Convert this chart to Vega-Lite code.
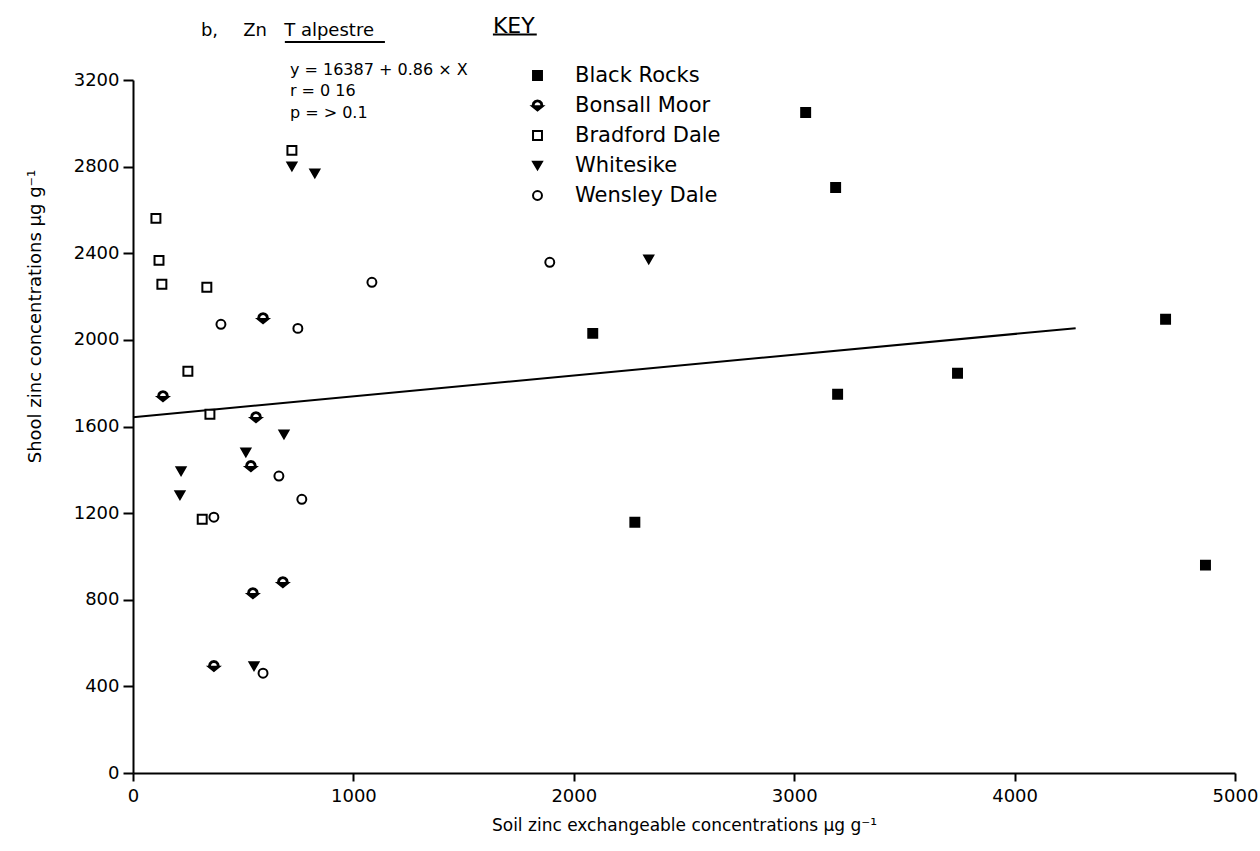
{
  "$schema": "https://vega.github.io/schema/vega-lite/v6.json",
  "width": 1102,
  "height": 693,
  "autosize": "none",
  "padding": {"left": 133, "top": 80, "right": 25, "bottom": 78},
  "background": "white",
  "config": {
    "view": {"stroke": null},
    "font": "DejaVu Sans",
    "axis": {
      "grid": false,
      "domainColor": "black",
      "domainWidth": 2,
      "tickColor": "black",
      "tickWidth": 2,
      "labelColor": "black",
      "titleColor": "black",
      "labelFont": "DejaVu Sans",
      "titleFont": "DejaVu Sans",
      "labelFontSize": 18,
      "titleFontSize": 17,
      "titleFontWeight": "normal"
    }
  },
  "datasets": {
    "points": [
      {"site": "Black Rocks", "soil": 3052, "shoot": 3050},
      {"site": "Black Rocks", "soil": 3188, "shoot": 2704},
      {"site": "Black Rocks", "soil": 2086, "shoot": 2030},
      {"site": "Black Rocks", "soil": 4685, "shoot": 2095},
      {"site": "Black Rocks", "soil": 3741, "shoot": 1846},
      {"site": "Black Rocks", "soil": 3197, "shoot": 1749},
      {"site": "Black Rocks", "soil": 2277, "shoot": 1158},
      {"site": "Black Rocks", "soil": 4866, "shoot": 960},
      {"site": "Bonsall Moor", "soil": 136, "shoot": 1740},
      {"site": "Bonsall Moor", "soil": 590, "shoot": 2100},
      {"site": "Bonsall Moor", "soil": 558, "shoot": 1643},
      {"site": "Bonsall Moor", "soil": 535, "shoot": 1417},
      {"site": "Bonsall Moor", "soil": 680, "shoot": 881},
      {"site": "Bonsall Moor", "soil": 544, "shoot": 830},
      {"site": "Bonsall Moor", "soil": 367, "shoot": 494},
      {"site": "Bradford Dale", "soil": 104, "shoot": 2561},
      {"site": "Bradford Dale", "soil": 118, "shoot": 2367},
      {"site": "Bradford Dale", "soil": 131, "shoot": 2257},
      {"site": "Bradford Dale", "soil": 335, "shoot": 2243},
      {"site": "Bradford Dale", "soil": 249, "shoot": 1855},
      {"site": "Bradford Dale", "soil": 349, "shoot": 1657},
      {"site": "Bradford Dale", "soil": 314, "shoot": 1172},
      {"site": "Bradford Dale", "soil": 721, "shoot": 2875},
      {"site": "Whitesike", "soil": 721, "shoot": 2801},
      {"site": "Whitesike", "soil": 825, "shoot": 2769},
      {"site": "Whitesike", "soil": 685, "shoot": 1564},
      {"site": "Whitesike", "soil": 512, "shoot": 1481},
      {"site": "Whitesike", "soil": 218, "shoot": 1394},
      {"site": "Whitesike", "soil": 213, "shoot": 1283},
      {"site": "Whitesike", "soil": 549, "shoot": 494},
      {"site": "Whitesike", "soil": 2340, "shoot": 2372},
      {"site": "Wensley Dale", "soil": 399, "shoot": 2072},
      {"site": "Wensley Dale", "soil": 748, "shoot": 2053},
      {"site": "Wensley Dale", "soil": 1084, "shoot": 2266},
      {"site": "Wensley Dale", "soil": 662, "shoot": 1371},
      {"site": "Wensley Dale", "soil": 766, "shoot": 1264},
      {"site": "Wensley Dale", "soil": 367, "shoot": 1181},
      {"site": "Wensley Dale", "soil": 590, "shoot": 461},
      {"site": "Wensley Dale", "soil": 1891, "shoot": 2358}
    ],
    "fit": [
      {"soil": 0, "shoot": 1643},
      {"soil": 4277, "shoot": 2054}
    ],
    "notes": [
      {"group": "title", "label": "b,", "soil": 308, "shoot": 3424},
      {"group": "title", "label": "Zn", "soil": 500, "shoot": 3424},
      {"group": "title", "label": "T alpestre", "soil": 686, "shoot": 3424},
      {"group": "key", "label": "KEY", "soil": 1633, "shoot": 3450},
      {"group": "eq", "label": "y =  16387 + 0.86 × X", "soil": 712, "shoot": 3244},
      {"group": "eq", "label": "r =  0 16", "soil": 712, "shoot": 3147},
      {"group": "eq", "label": "p =  > 0.1", "soil": 712, "shoot": 3046}
    ],
    "underlines": [
      {"soil": 689, "soil2": 1143, "shoot": 3375},
      {"soil": 1633, "soil2": 1832, "shoot": 3410}
    ]
  },
  "layer": [
    {
      "data": {"name": "fit"},
      "mark": {"type": "line", "color": "black", "strokeWidth": 2},
      "encoding": {
        "x": {
          "field": "soil", "type": "quantitative",
          "scale": {"domain": [0, 5000], "nice": false, "zero": false},
          "axis": {
            "title": "Soil zinc exchangeable concentrations µg g⁻¹",
            "values": [0, 1000, 2000, 3000, 4000, 5000],
            "format": "d",
            "tickSize": 8,
            "labelPadding": 6,
            "titlePadding": 12,
            "labelFlush": false
          }
        },
        "y": {
          "field": "shoot", "type": "quantitative",
          "scale": {"domain": [0, 3200], "nice": false, "zero": false},
          "axis": {
            "title": "Shool zinc concentrations µg g⁻¹",
            "values": [0, 400, 800, 1200, 1600, 2000, 2400, 2800, 3200],
            "format": "d",
            "tickSize": 10,
            "labelPadding": 4,
            "labelFlush": false,
            "titleFontSize": 18,
            "titleX": -98,
            "titleY": 236,
            "titleAlign": "center",
            "titleBaseline": "middle"
          }
        }
      }
    },
    {
      "data": {"name": "points"},
      "mark": {"type": "point", "filled": true, "opacity": 1, "size": 80, "strokeWidth": 2},
      "encoding": {
        "x": {"field": "soil", "type": "quantitative"},
        "y": {"field": "shoot", "type": "quantitative"},
        "shape": {
          "field": "site", "type": "nominal",
          "scale": {
            "domain": ["Black Rocks", "Bonsall Moor", "Bradford Dale", "Whitesike", "Wensley Dale"],
            "range": ["square", "M-1.8,-0.05L1.8,-0.05L0,1.4ZM-1.3,-0.05L-1.13,-0.7L-0.65,-1.18L0,-1.35L0.65,-1.18L1.13,-0.7L1.3,-0.05L0.65,-0.05L0.56,-0.38L0.32,-0.62L0,-0.7L-0.32,-0.62L-0.56,-0.38L-0.65,-0.05Z", "square", "triangle-down", "circle"]
          },
          "legend": {
            "title": null,
            "orient": "none",
            "legendX": 394,
            "legendY": -15,
            "labelFontSize": 21,
            "labelFont": "DejaVu Sans",
            "labelColor": "black",
            "labelOffset": 27,
            "rowPadding": 8,
            "padding": 0,
            "symbolSize": 80,
            "symbolStrokeWidth": 2
          }
        },
        "fill": {
          "field": "site", "type": "nominal",
          "scale": {
            "domain": ["Black Rocks", "Bonsall Moor", "Bradford Dale", "Whitesike", "Wensley Dale"],
            "range": ["black", "black", "white", "black", "white"]
          }
        },
        "stroke": {
          "field": "site", "type": "nominal",
          "scale": {
            "domain": ["Black Rocks", "Bonsall Moor", "Bradford Dale", "Whitesike", "Wensley Dale"],
            "range": ["black", "transparent", "black", "black", "black"]
          }
        }
      }
    },
    {
      "data": {"name": "notes"},
      "transform": [{"filter": "datum.group === 'title'"}],
      "mark": {"type": "text", "align": "left", "baseline": "middle", "fontSize": 18, "color": "black"},
      "encoding": {
        "x": {"field": "soil", "type": "quantitative"},
        "y": {"field": "shoot", "type": "quantitative"},
        "text": {"field": "label"}
      }
    },
    {
      "data": {"name": "notes"},
      "transform": [{"filter": "datum.group === 'key'"}],
      "mark": {"type": "text", "align": "left", "baseline": "middle", "fontSize": 22, "color": "black"},
      "encoding": {
        "x": {"field": "soil", "type": "quantitative"},
        "y": {"field": "shoot", "type": "quantitative"},
        "text": {"field": "label"}
      }
    },
    {
      "data": {"name": "notes"},
      "transform": [{"filter": "datum.group === 'eq'"}],
      "mark": {"type": "text", "align": "left", "baseline": "middle", "fontSize": 16, "color": "black"},
      "encoding": {
        "x": {"field": "soil", "type": "quantitative"},
        "y": {"field": "shoot", "type": "quantitative"},
        "text": {"field": "label"}
      }
    },
    {
      "data": {"name": "underlines"},
      "mark": {"type": "rule", "color": "black", "strokeWidth": 2},
      "encoding": {
        "x": {"field": "soil", "type": "quantitative"},
        "x2": {"field": "soil2"},
        "y": {"field": "shoot", "type": "quantitative"}
      }
    }
  ]
}
